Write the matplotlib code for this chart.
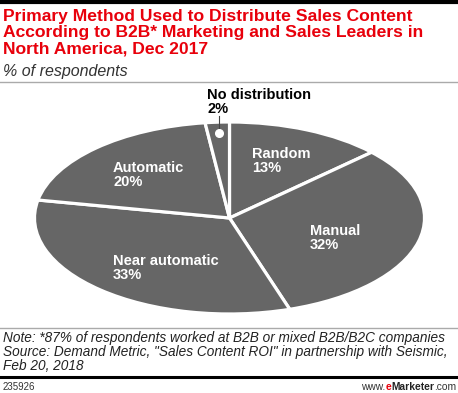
"""eMarketer 스타일 파이 차트 — 영업 콘텐츠 배포 방식 (B2B 마케팅·영업 리더, 2017년 12월)."""

import matplotlib

matplotlib.use("Agg")
import matplotlib.pyplot as plt
from matplotlib.lines import Line2D

plt.rcParams["font.family"] = ["Liberation Sans", "DejaVu Sans"]

W, H = 458, 393
DPI = 100

TITLE = ("Primary Method Used to Distribute Sales Content\n"
         "According to B2B* Marketing and Sales Leaders in\n"
         "North America, Dec 2017")
SUBTITLE = "% of respondents"
NOTE = ("Note: *87% of respondents worked at B2B or mixed B2B/B2C companies\n"
        "Source: Demand Metric, \"Sales Content ROI\" in partnership with Seismic,\n"
        "Feb 20, 2018")
CHART_ID = "235926"

# 12시 방향부터 시계방향
methods = ["Random", "Manual", "Near automatic", "Automatic", "No distribution"]
shares = [13, 32, 33, 20, 2]

PIE_GRAY = "#666666"
RED = "#e8000b"

# 라벨 위치 (픽셀, 좌상단 기준)
LABEL_POS = {
    "Random": (252, 147),
    "Manual": (310, 224),
    "Near automatic": (113, 254),
    "Automatic": (113, 161),
    "No distribution": (207, 88),
}


def fx(x):
    return x / W


def fy(y):
    return 1 - y / H


def hline(fig, y, color, lw):
    fig.add_artist(Line2D([0, 1], [fy(y), fy(y)], color=color, lw=lw))


def main() -> None:
    fig = plt.figure(figsize=(W / DPI, H / DPI), dpi=DPI)

    # ── 파이 (납작한 타원) ──
    left, top, right, bottom = 34.5, 122, 424.5, 314
    ax = fig.add_axes([fx(left), fy(bottom), (right - left) / W, (bottom - top) / H])
    ax.pie(shares, startangle=90, counterclock=False, colors=[PIE_GRAY] * len(shares),
           wedgeprops=dict(edgecolor="white", linewidth=2.3))
    ax.set_aspect("auto")
    ax.set_xlim(-1, 1)
    ax.set_ylim(-1, 1)
    ax.axis("off")

    for name, val in zip(methods, shares):
        x, y = LABEL_POS[name]
        color = "black" if name == "No distribution" else "white"
        fig.text(fx(x), fy(y), f"{name}\n{val}%", ha="left", va="top",
                 fontsize=10.5, fontweight="bold", color=color, linespacing=1.0)

    # "No distribution" 지시선 + 점
    fig.add_artist(Line2D([fx(219), fx(219)], [fy(116), fy(131)], color="#444444", lw=0.8))
    fig.add_artist(Line2D([fx(219)], [fy(133)], marker="o", markersize=5.5,
                          color="white", markeredgecolor="white"))

    # ── 머리 ──
    hline(fig, 1.5, "black", 3)
    fig.text(fx(3), fy(9), TITLE, ha="left", va="top", fontsize=12.6,
             fontweight="bold", color=RED, linespacing=1.1)
    fig.text(fx(3), fy(64), SUBTITLE, ha="left", va="top", fontsize=11.5,
             style="italic", color="#333333")
    hline(fig, 81.5, "#aaaaaa", 1)

    # ── 꼬리 ──
    hline(fig, 327.5, "#aaaaaa", 1)
    fig.text(fx(3), fy(331), NOTE, ha="left", va="top", fontsize=9.8,
             style="italic", color="#222222", linespacing=0.98)
    hline(fig, 376.5, "black", 2.2)
    fig.text(fx(3), fy(382), CHART_ID, ha="left", va="top", fontsize=7, color="#333333")

    # www.eMarketer.com — 오른쪽부터 이어 붙이기
    t_com = fig.text(fx(456), fy(382), ".com", ha="right", va="top", fontsize=7.4,
                     color="#333333")
    t_mk = ax.annotate("Marketer", xy=(0, 0), xycoords=t_com, ha="right", va="bottom",
                       fontsize=7.4, fontweight="bold", color="#222222",
                       annotation_clip=False)
    t_e = ax.annotate("e", xy=(0, 0), xycoords=t_mk, ha="right", va="bottom",
                      fontsize=7.4, fontweight="bold", color=RED, annotation_clip=False)
    ax.annotate("www.", xy=(0, 0), xycoords=t_e, ha="right", va="bottom",
                fontsize=7.4, color="#333333", annotation_clip=False)

    fig.savefig("out.png", dpi=DPI)
    plt.close(fig)


if __name__ == "__main__":
    main()
